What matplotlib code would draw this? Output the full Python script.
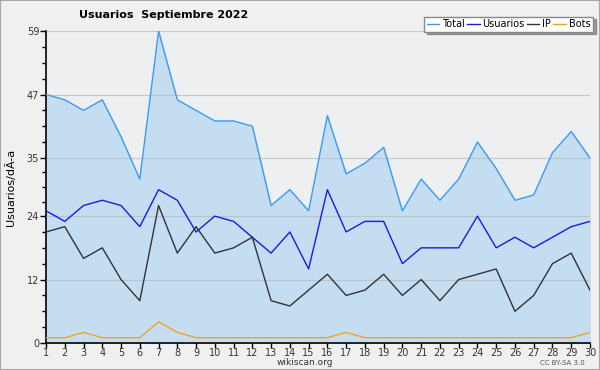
import matplotlib
matplotlib.use("Agg")
import matplotlib.pyplot as plt
from matplotlib.patches import Rectangle

# --- datos (septiembre 2022) ---
dias = list(range(1, 31))
total = [47, 46, 44, 46, 39, 31, 59, 46, 44, 42, 42, 41, 26, 29, 25,
         43, 32, 34, 37, 25, 31, 27, 31, 38, 33, 27, 28, 36, 40, 35]
usuarios = [25, 23, 26, 27, 26, 22, 29, 27, 21, 24, 23, 20, 17, 21, 14,
            29, 21, 23, 23, 15, 18, 18, 18, 24, 18, 20, 18, 20, 22, 23]
ip = [21, 22, 16, 18, 12, 8, 26, 17, 22, 17, 18, 20, 8, 7, 10,
      13, 9, 10, 13, 9, 12, 8, 12, 13, 14, 6, 9, 15, 17, 10]
bots = [1, 1, 2, 1, 1, 1, 4, 2, 1, 1, 1, 1, 1, 1, 1,
        1, 2, 1, 1, 1, 1, 1, 1, 1, 1, 1, 1, 1, 1, 2]
yticks = [0, 12, 24, 35, 47, 59]

plt.rcParams['font.family'] = ['DejaVu Sans']

fig = plt.figure(figsize=(6, 3.7), dpi=100, facecolor='#f0f0f0')
fig.patches.append(Rectangle((0, 0), 1, 1, transform=fig.transFigure,
                             fill=False, edgecolor='#a8a8a8', linewidth=1.5))
ax = fig.add_axes([0.0767, 0.073, 0.9066, 0.843])
ax.set_facecolor('#eeeff1')

ax.fill_between(dias, 0, total, color='#c4ddf1', zorder=1)
ax.plot(dias, total, color='#3d9bf5', lw=1, label='Total', zorder=3)
ax.plot(dias, usuarios, color='#1a1ae6', lw=1, label='Usuarios', zorder=3)
ax.plot(dias, ip, color='#333333', lw=1, label='IP', zorder=3)
ax.plot(dias, bots, color='#f5a020', lw=1, label='Bots', zorder=3)

ax.set_xlim(1, 30)
ax.set_ylim(0, 59)
ax.set_xticks(dias)
ax.set_yticks(yticks)
minors = []
for a, b in zip(yticks[:-1], yticks[1:]):
    minors += [a + (b - a) * k / 4 for k in (1, 2, 3)]
ax.set_yticks(minors, minor=True)
ax.grid(axis='y', which='major', color='#b8b8b8', lw=0.8, alpha=0.7, zorder=2)
ax.set_axisbelow(False)
for s in ('top', 'right'):
    ax.spines[s].set_visible(False)
ax.spines['left'].set_linewidth(1.2)
ax.spines['bottom'].set_linewidth(1.2)
ax.tick_params(axis='both', labelsize=7, length=4, width=1, pad=1, colors='black')
ax.tick_params(axis='x', pad=0, length=3.5)
ax.tick_params(axis='y', which='minor', length=3, width=1)
ax.tick_params(axis='y', labelcolor='#333333')
ax.tick_params(axis='x', labelcolor='#333333')

ax.set_ylabel('Usuarios/dÃ-a', fontsize=8, labelpad=8)
fig.text(0.272, 0.96, 'Usuarios  Septiembre 2022', fontsize=8,
         fontweight='bold', ha='center', va='center')
fig.text(0.508, 0.02, 'wikiscan.org', fontsize=6.5, ha='center', va='center',
         color='#333333')
fig.text(0.975, 0.018, 'CC BY-SA 3.0', fontsize=5, ha='right', va='center',
         color='#555555')

leg = fig.legend(loc='upper right', bbox_to_anchor=(0.988, 0.955), ncol=4,
                 fontsize=7, frameon=True, fancybox=False, shadow=True,
                 edgecolor='#888888', handlelength=1.3, handletextpad=0.3,
                 columnspacing=0.2, borderpad=0.25, borderaxespad=0)
leg.get_frame().set_linewidth(1)

fig.savefig('out.png', dpi=100, facecolor=fig.get_facecolor())
